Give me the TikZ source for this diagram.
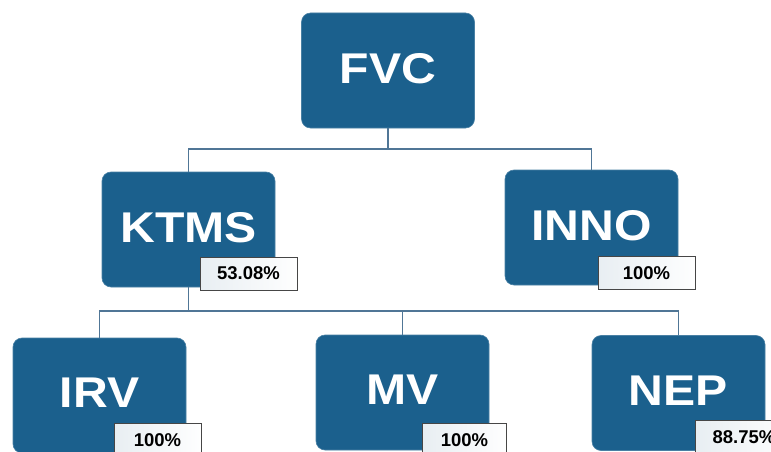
\documentclass[tikz,border=0pt]{standalone}
\usepackage{fontspec}
\setmainfont{Liberation Sans}
\newfontfamily\boxfont[FakeStretch=1.12]{Liberation Sans}
\definecolor{boxblue}{RGB}{27,96,141}
\definecolor{linecol}{RGB}{80,118,150}
\definecolor{labfill}{RGB}{232,238,242}
\definecolor{labdraw}{RGB}{70,70,70}
\newcommand{\bt}[1]{\raisebox{5pt}{#1}}
\begin{document}
\begin{tikzpicture}[x=1pt,y=-1pt,
  org/.style={draw=boxblue!80!white, line width=0.6pt, fill=boxblue, rounded corners=9pt,
    minimum width=173pt, minimum height=115pt, inner sep=0pt,
    text=white, font=\boxfont\fontsize{43}{43}\selectfont\bfseries},
  pct/.style={draw=labdraw, line width=1pt, left color=labfill, right color=white!96!labfill,
    minimum height=33pt, inner sep=0pt, text=black, font=\fontsize{18.5}{18.5}\selectfont\bfseries},
  conn/.style={draw=linecol, line width=1.5pt}]
\useasboundingbox (0,0) rectangle (771,452);
\fill[white] (0,0) rectangle (771,452);
% boxes
\node[org] (fvc)  at (388,70.5)  {\bt{FVC}};
\node[org] (ktms) at (188.5,229.5) {\bt{KTMS}};
\node[org] (inno) at (591.5,227.5) {\bt{INNO}};
\node[org] (irv)  at (99.5,395.5) {\bt{IRV}};
\node[org] (mv)   at (402.5,392.5) {\bt{MV}};
\node[org] (nep)  at (678.5,393) {\bt{NEP}};
% junctions
\coordinate (j1) at (388,149);
\coordinate (j2) at (188.5,311);
% connectors
\draw[conn] (fvc.south) -- (j1);
\draw[conn] (ktms.north) |- (j1) -| (inno.north);
\draw[conn] (ktms.south) -- (j2);
\draw[conn] (irv.north) |- (j2) -| (nep.north);
\draw[conn] (mv.north) -- (mv.north |- j2);
% percentage labels
\node[pct, minimum width=97pt] (lk) at (248.5,273.5) {53.08\%};
\node[pct, minimum width=97pt] (li) at (646.5,273) {100\%};
\node[pct, minimum width=87pt] (lirv) at (157.5,440) {100\%};
\node[pct, minimum width=84pt] (lmv) at (464.5,440) {100\%};
\node[pct, minimum width=97pt, anchor=north west] (lnep) at (695,420) {88.75\%};
\end{tikzpicture}
\end{document}
